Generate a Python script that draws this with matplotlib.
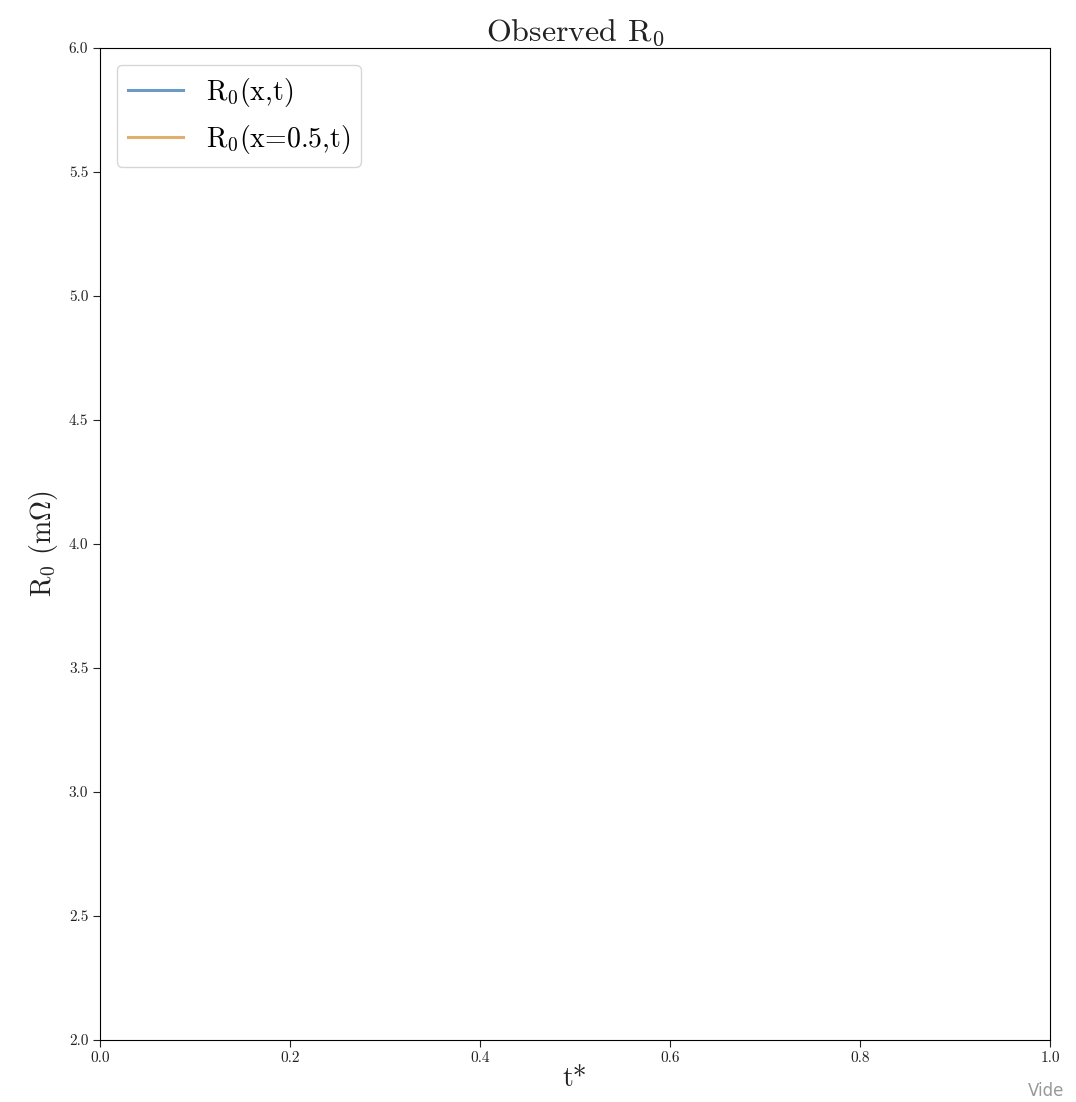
import numpy as np
import matplotlib
matplotlib.use("Agg")
import matplotlib.pyplot as plt

# %% Data (the reference frame shows no data drawn yet)
t_star = np.array([])
R0_xt = np.array([])
R0_mid = np.array([])
xticks = [0.0, 0.2, 0.4, 0.6, 0.8, 1.0]
yticks = [2.0, 2.5, 3.0, 3.5, 4.0, 4.5, 5.0, 5.5, 6.0]

# %% Style: computer modern look
plt.rcParams['font.family'] = 'serif'
plt.rcParams['font.serif'] = ['cmr10', 'DejaVu Serif']
plt.rcParams['mathtext.fontset'] = 'cm'
plt.rcParams['axes.formatter.use_mathtext'] = True

fig = plt.figure(figsize=(10.76, 11.02), dpi=100)
ax = fig.add_axes([0.093, 0.0563, 0.8828, 0.9001])

ax.plot(t_star, R0_xt, color='#6b9bc3', lw=2.2, label=r'R$_0$(x,t)')
ax.plot(t_star, R0_mid, color='#dfb06e', lw=2.2, label=r'R$_0$(x=0.5,t)')

ax.set_xlim(0, 1)
ax.set_ylim(2, 6)
ax.set_xticks(xticks)
ax.set_yticks(yticks)
ax.set_xticklabels(['%.1f' % v for v in xticks])
ax.set_yticklabels(['%.1f' % v for v in yticks])
ax.tick_params(labelsize=11, colors='#222222', length=5)

ax.set_title(r'Observed R$_0$', fontsize=23, pad=2, color='#222222')
ax.set_xlabel(r't*', fontsize=20, labelpad=0, color='#222222')
ax.set_ylabel(r'R$_0$ (m$\Omega$)', fontsize=20, labelpad=6, color='#222222')

ax.legend(loc='upper left', fontsize=20, handlelength=2.0,
          borderaxespad=0.6, framealpha=0.8, edgecolor='#cccccc')

# watermark text at bottom right
fig.text(0.955, 0.002, 'Vide', fontsize=12, color='#999999',
         family='DejaVu Sans', va='bottom', ha='left')

fig.savefig('out.png', dpi=100)
